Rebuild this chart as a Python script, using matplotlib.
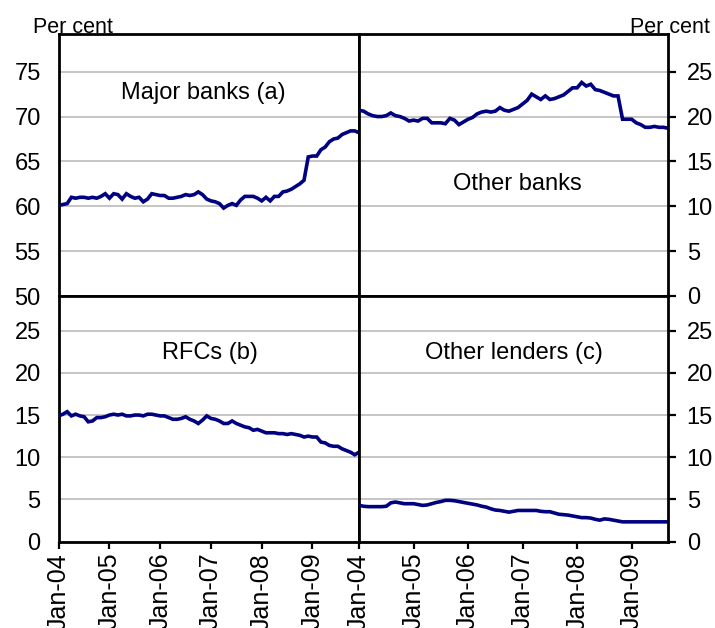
import numpy as np
import matplotlib.pyplot as plt

plt.rcParams['font.family'] = ['Liberation Sans', 'DejaVu Sans']

# Share of housing loan approvals by lender type, monthly from Jan-04
major_banks = [60.1, 60.2, 60.3, 61.0, 60.9, 61.0, 61.0, 60.9, 61.0, 60.9, 61.1, 61.4,
               60.9, 61.4, 61.3, 60.8, 61.4, 61.1, 60.9, 61.0, 60.5, 60.8, 61.4, 61.3,
               61.2, 61.2, 60.9, 60.9, 61.0, 61.1, 61.3, 61.2, 61.3, 61.6, 61.3, 60.8,
               60.6, 60.5, 60.3, 59.8, 60.1, 60.3, 60.1, 60.7, 61.1, 61.1, 61.1, 60.9,
               60.6, 61.0, 60.6, 61.1, 61.1, 61.6, 61.7, 61.9, 62.2, 62.5, 62.9, 65.5,
               65.6, 65.6, 66.3, 66.6, 67.2, 67.5, 67.6, 68.0, 68.2, 68.4, 68.4, 68.2]

rfcs = [14.9, 15.1, 15.4, 14.9, 15.1, 14.9, 14.8, 14.2, 14.3, 14.7, 14.7, 14.8,
        15.0, 15.1, 15.0, 15.1, 14.9, 14.9, 15.0, 15.0, 14.9, 15.1, 15.1, 15.0,
        14.9, 14.9, 14.7, 14.5, 14.5, 14.6, 14.8, 14.5, 14.3, 14.0, 14.4, 14.9,
        14.6, 14.5, 14.3, 14.0, 14.0, 14.3, 14.0, 13.8, 13.6, 13.5, 13.2, 13.3,
        13.1, 12.9, 12.9, 12.9, 12.8, 12.8, 12.7, 12.8, 12.7, 12.6, 12.4, 12.5,
        12.4, 12.4, 11.8, 11.7, 11.4, 11.3, 11.3, 11.0, 10.8, 10.6, 10.3, 10.6]

other_banks = [20.7, 20.6, 20.3, 20.1, 20.0, 20.0, 20.1, 20.4, 20.1, 20.0, 19.8, 19.5,
               19.6, 19.5, 19.8, 19.8, 19.3, 19.3, 19.3, 19.2, 19.8, 19.6, 19.1, 19.4,
               19.7, 19.9, 20.3, 20.5, 20.6, 20.5, 20.6, 21.0, 20.7, 20.6, 20.8, 21.0,
               21.4, 21.8, 22.5, 22.2, 21.9, 22.3, 21.9, 22.0, 22.2, 22.4, 22.8, 23.2,
               23.2, 23.8, 23.4, 23.6, 23.0, 22.9, 22.7, 22.5, 22.3, 22.3, 19.7, 19.7,
               19.7, 19.3, 19.1, 18.8, 18.8, 18.9, 18.8, 18.8, 18.7]

other_lenders = [4.3, 4.2, 4.15, 4.15, 4.15, 4.15, 4.2, 4.6, 4.7, 4.6, 4.5, 4.5,
                 4.5, 4.4, 4.3, 4.35, 4.5, 4.65, 4.75, 4.9, 4.9, 4.85, 4.75, 4.65,
                 4.55, 4.45, 4.35, 4.2, 4.1, 3.9, 3.75, 3.7, 3.6, 3.5, 3.6, 3.7,
                 3.7, 3.7, 3.7, 3.7, 3.6, 3.55, 3.55, 3.4, 3.25, 3.2, 3.15, 3.05,
                 2.95, 2.85, 2.85, 2.8, 2.65, 2.55, 2.7, 2.65, 2.55, 2.45, 2.35, 2.35,
                 2.35, 2.35, 2.35, 2.35, 2.35, 2.35, 2.35, 2.35, 2.35]

tick_months = [0, 12, 24, 36, 48, 60]
tick_labels = ['Jan-04', 'Jan-05', 'Jan-06', 'Jan-07', 'Jan-08', 'Jan-09']

line_color = '#000080'
grid_color = '#c0c0c0'
fs_ytick = 17
fs_xtick = 18
fs_panel = 17

fig = plt.figure(figsize=(7.15, 6.28), dpi=100)

lx, lw_ = 58.7 / 715, (359 - 58.7) / 715
rx, rw_ = 359 / 715, (668 - 359) / 715
ty, th = (628 - 296) / 628, 262 / 628
by, bh = (628 - 541.7) / 628, 245.7 / 628

panels = [
    # (rect, data, ylim, yticks, side, bottom, label, label pos)
    ([lx, ty, lw_, th], major_banks, (50, 79.2), [50, 55, 60, 65, 70, 75], 'left', False,
     'Major banks (a)', (0.48, 0.775)),
    ([rx, ty, rw_, th], other_banks, (0, 29.2), [0, 5, 10, 15, 20, 25], 'right', False,
     'Other banks', (0.511, 0.427)),
    ([lx, by, lw_, bh], rfcs, (0, 29.1), [0, 5, 10, 15, 20, 25], 'left', True,
     'RFCs (b)', (0.503, 0.767)),
    ([rx, by, rw_, bh], other_lenders, (0, 29.1), [0, 5, 10, 15, 20, 25], 'right', True,
     'Other lenders (c)', (0.502, 0.77)),
]

for rect, vals, ylim, yticks, side, bottom, label, (tx, ty_) in panels:
    ax = fig.add_axes(rect)
    x = np.arange(len(vals))
    ax.plot(x, vals, color=line_color, lw=2.6, solid_joinstyle='miter', zorder=3)
    ax.set_xlim(0, len(vals) - 1)
    ax.set_ylim(*ylim)
    ax.set_yticks(yticks)
    ax.grid(axis='y', color=grid_color, lw=1.3)
    ax.set_axisbelow(True)
    for sp in ax.spines.values():
        sp.set_linewidth(2)
        sp.set_color('black')

    if side == 'left':
        ax.tick_params(axis='y', left=True, right=False, length=0, pad=13,
                       labelsize=fs_ytick)
    else:
        ax.yaxis.tick_right()
        ax.tick_params(axis='y', direction='out', length=5.5, width=1.6, pad=8,
                       labelsize=fs_ytick)

    ax.set_xticks(tick_months)
    if bottom:
        ax.set_xticklabels(tick_labels, rotation=90, fontsize=fs_xtick)
        ax.tick_params(axis='x', direction='out', length=5, width=1.6, pad=3)
    else:
        ax.tick_params(axis='x', bottom=False, labelbottom=False)

    ax.text(tx, ty_, label, transform=ax.transAxes, ha='center', va='center',
            fontsize=fs_panel)

fig.text(33 / 715, (628 - 33) / 628, 'Per cent', ha='left', va='baseline', fontsize=15.5)
fig.text(710 / 715, (628 - 33) / 628, 'Per cent', ha='right', va='baseline', fontsize=15.5)

fig.savefig('out.png', dpi=100)
